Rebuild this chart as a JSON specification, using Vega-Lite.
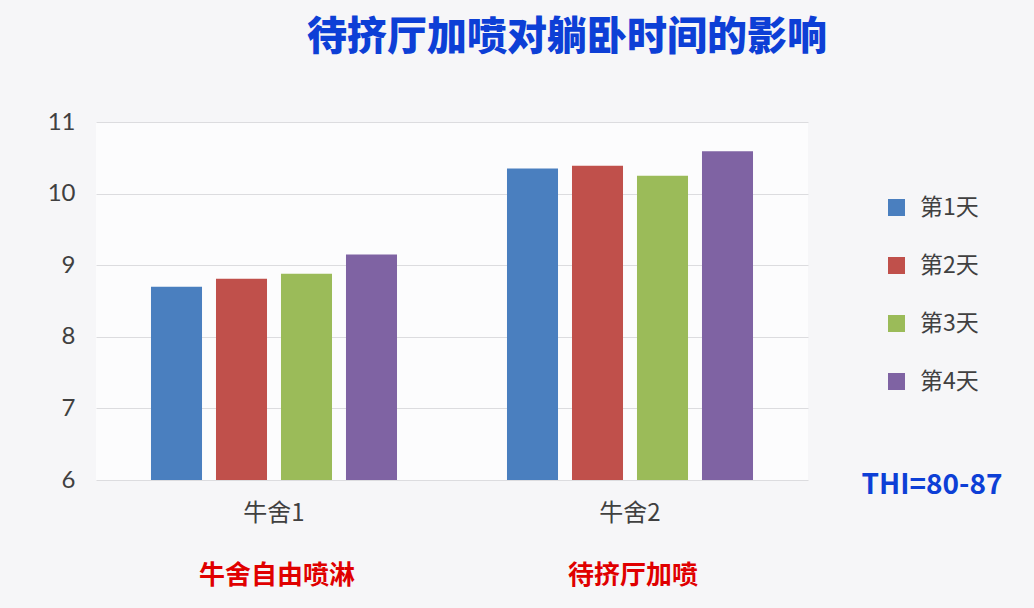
{
  "$schema": "https://vega.github.io/schema/vega-lite/v6.json",
  "width": 712,
  "height": 358,
  "autosize": {"type": "none"},
  "padding": {"left": 96, "top": 122, "right": 226, "bottom": 128},
  "background": "#f6f6f8",
  "title": {
    "text": "待挤厅加喷对躺卧时间的影响",
    "font": "Noto Sans CJK SC",
    "fontSize": 40,
    "fontWeight": 900,
    "color": "#0d3fd6",
    "anchor": "middle",
    "dx": 115,
    "offset": 12,
    "baseline": "bottom"
  },
  "config": {
    "view": {"stroke": null, "fill": "#fcfcfd"},
    "font": "Noto Sans CJK SC"
  },
  "datasets": {
    "bars": [
      {"group": "牛舍1", "day": "第1天", "value": 8.70},
      {"group": "牛舍1", "day": "第2天", "value": 8.81},
      {"group": "牛舍1", "day": "第3天", "value": 8.88},
      {"group": "牛舍1", "day": "第4天", "value": 9.15},
      {"group": "牛舍2", "day": "第1天", "value": 10.35},
      {"group": "牛舍2", "day": "第2天", "value": 10.39},
      {"group": "牛舍2", "day": "第3天", "value": 10.25},
      {"group": "牛舍2", "day": "第4天", "value": 10.59}
    ],
    "notes": [
      {"group": "牛舍1", "label": "牛舍自由喷淋"},
      {"group": "牛舍2", "label": "待挤厅加喷"}
    ]
  },
  "layer": [
    {
      "data": {"name": "bars"},
      "mark": {"type": "bar"},
      "encoding": {
        "x": {
          "field": "group",
          "type": "nominal",
          "scale": {"paddingInner": 0, "paddingOuter": 0},
          "axis": {
            "title": null,
            "labelAngle": 0,
            "labelFontSize": 24,
            "labelColor": "#404040",
            "labelFont": "Noto Sans CJK SC",
            "domain": false,
            "ticks": false,
            "labelPadding": 21
          }
        },
        "xOffset": {
          "field": "day",
          "type": "nominal",
          "scale": {"paddingInner": 0.215, "paddingOuter": 0.846}
        },
        "y": {
          "field": "value",
          "type": "quantitative",
          "scale": {"domain": [6, 11]},
          "axis": {
            "values": [6, 7, 8, 9, 10, 11],
            "title": null,
            "labelFontSize": 24,
            "labelFont": "Lato",
            "labelColor": "#404040",
            "domain": false,
            "ticks": false,
            "labelPadding": 21,
            "gridColor": "#dcdcdf"
          }
        },
        "y2": {"datum": 6},
        "color": {
          "field": "day",
          "type": "nominal",
          "scale": {"range": ["#4a7fbf", "#c0504b", "#9bbb59", "#7f63a3"]},
          "legend": {
            "orient": "none",
            "legendX": 766,
            "legendY": 74,
            "padding": 0,
            "symbolType": "square",
            "symbolSize": 289,
            "symbolStrokeWidth": 0,
            "labelFontSize": 23,
            "labelColor": "#404040",
            "labelFont": "Noto Sans CJK SC",
            "labelOffset": 12,
            "rowPadding": 34,
            "title": "THI=80-87",
            "titleOrient": "bottom",
            "titleAnchor": "middle",
            "titleAlign": "center",
            "titleFontSize": 28,
            "titleFont": "Noto Sans CJK SC",
            "titleFontWeight": "bold",
            "titleColor": "#0d3fd6",
            "titlePadding": 78
          }
        }
      }
    },
    {
      "data": {"name": "notes"},
      "mark": {
        "type": "text",
        "fontSize": 26,
        "fontWeight": "bold",
        "font": "Noto Sans CJK SC",
        "color": "#e00000",
        "baseline": "middle",
        "dx": 3
      },
      "encoding": {
        "x": {"field": "group", "type": "nominal"},
        "y": {"value": 454},
        "text": {"field": "label"}
      }
    }
  ]
}
